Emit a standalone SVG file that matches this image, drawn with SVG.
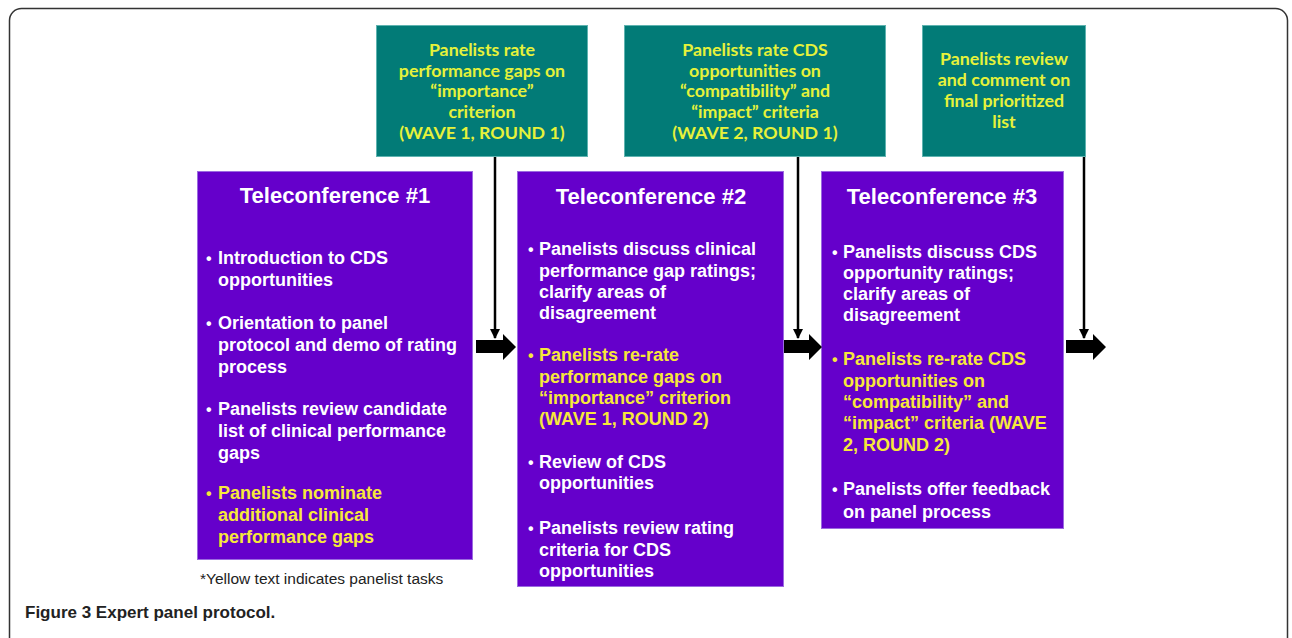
<svg xmlns="http://www.w3.org/2000/svg" width="1292" height="638" viewBox="0 0 1292 638">
<defs>
<style>
.frame{fill:#fff;stroke:#333;stroke-width:1.5}
.teal{fill:#027b77;stroke:#5fb3b0;stroke-width:1}
.purple{fill:#6500cb;stroke:#9b6be0;stroke-width:1}
.tt{font-family:Lato,"Open Sans",sans-serif;font-weight:bold;font-size:17.8px;fill:#e6f23a;text-anchor:middle}
.title{font-family:"Liberation Sans",Arial,sans-serif;font-weight:bold;font-size:22px;fill:#fff;text-anchor:middle}
.b{font-family:"Liberation Sans",Arial,sans-serif;font-weight:bold;font-size:18px;fill:#fff}
.y{fill:#f7e83a}
.dot{font-family:"Liberation Sans",Arial,sans-serif;font-weight:bold;font-size:16px}
.note{font-family:"Liberation Sans",Arial,sans-serif;font-size:15.5px;fill:#222}
.cap{font-family:"Liberation Sans",Arial,sans-serif;font-weight:bold;font-size:17px;fill:#222}
.line{stroke:#000;stroke-width:2.5;fill:none}
.block{fill:#000}
</style>
<marker id="ah" viewBox="0 0 10 10" refX="9" refY="5" markerWidth="4" markerHeight="4" orient="auto">
<path d="M0,0 L10,5 L0,10 z" fill="#000"/>
</marker>
</defs>
<rect class="frame" x="9.5" y="8.5" width="1278" height="645" rx="12"/>

<g id="wave1">
<rect class="teal" x="376.5" y="25.5" width="211" height="131"/>
<text class="tt" x="482" y="56">Panelists rate</text>
<text class="tt" x="482" y="77">performance gaps on</text>
<text class="tt" x="482" y="97">“importance”</text>
<text class="tt" x="482" y="118">criterion</text>
<text class="tt" x="482" y="139">(WAVE 1, ROUND 1)</text>
</g>

<g id="wave2">
<rect class="teal" x="624.5" y="25.5" width="261" height="131"/>
<text class="tt" x="755" y="56">Panelists rate CDS</text>
<text class="tt" x="755" y="77">opportunities on</text>
<text class="tt" x="755" y="97">“compatibility” and</text>
<text class="tt" x="755" y="118">“impact” criteria</text>
<text class="tt" x="755" y="139">(WAVE 2, ROUND 1)</text>
</g>

<g id="final">
<rect class="teal" x="922.5" y="25.5" width="163" height="131"/>
<text class="tt" x="1004" y="65">Panelists review</text>
<text class="tt" x="1004" y="86">and comment on</text>
<text class="tt" x="1004" y="107">final prioritized</text>
<text class="tt" x="1004" y="128">list</text>
</g>

<g id="tele1">
<rect class="purple" x="197.5" y="171.5" width="275" height="388"/>
<text class="title" x="335" y="203">Teleconference #1</text>
<text class="b dot" x="206" y="264">•</text>
<text class="b" x="218" y="264">Introduction to CDS</text>
<text class="b" x="218" y="286">opportunities</text>
<text class="b dot" x="206" y="329">•</text>
<text class="b" x="218" y="329">Orientation to panel</text>
<text class="b" x="218" y="351">protocol and demo of rating</text>
<text class="b" x="218" y="373">process</text>
<text class="b dot" x="206" y="415">•</text>
<text class="b" x="218" y="415">Panelists review candidate</text>
<text class="b" x="218" y="437">list of clinical performance</text>
<text class="b" x="218" y="459">gaps</text>
<text class="b dot y" x="206" y="499">•</text>
<text class="b y" x="218" y="499">Panelists nominate</text>
<text class="b y" x="218" y="521">additional clinical</text>
<text class="b y" x="218" y="543">performance gaps</text>
</g>

<g id="tele2">
<rect class="purple" x="517.5" y="171.5" width="266" height="415"/>
<text class="title" x="651" y="204">Teleconference #2</text>
<text class="b dot" x="528" y="255">•</text>
<text class="b" x="539" y="255">Panelists discuss clinical</text>
<text class="b" x="539" y="277">performance gap ratings;</text>
<text class="b" x="539" y="298">clarify areas of</text>
<text class="b" x="539" y="319">disagreement</text>
<text class="b dot y" x="528" y="361">•</text>
<text class="b y" x="539" y="361">Panelists re-rate</text>
<text class="b y" x="539" y="383">performance gaps on</text>
<text class="b y" x="539" y="404">“importance” criterion</text>
<text class="b y" x="539" y="425">(WAVE 1, ROUND 2)</text>
<text class="b dot" x="528" y="468">•</text>
<text class="b" x="539" y="468">Review of CDS</text>
<text class="b" x="539" y="489">opportunities</text>
<text class="b dot" x="528" y="534">•</text>
<text class="b" x="539" y="534">Panelists review rating</text>
<text class="b" x="539" y="556">criteria for CDS</text>
<text class="b" x="539" y="577">opportunities</text>
</g>

<g id="tele3">
<rect class="purple" x="821.5" y="171.5" width="242" height="357"/>
<text class="title" x="942" y="204">Teleconference #3</text>
<text class="b dot" x="832" y="258">•</text>
<text class="b" x="843" y="258">Panelists discuss CDS</text>
<text class="b" x="843" y="279">opportunity ratings;</text>
<text class="b" x="843" y="300">clarify areas of</text>
<text class="b" x="843" y="321">disagreement</text>
<text class="b dot y" x="832" y="365">•</text>
<text class="b y" x="843" y="365">Panelists re-rate CDS</text>
<text class="b y" x="843" y="387">opportunities on</text>
<text class="b y" x="843" y="408">“compatibility” and</text>
<text class="b y" x="843" y="429">“impact” criteria (WAVE</text>
<text class="b y" x="843" y="451">2, ROUND 2)</text>
<text class="b dot" x="832" y="495">•</text>
<text class="b" x="843" y="495">Panelists offer feedback</text>
<text class="b" x="843" y="518">on panel process</text>
</g>

<g id="connectors">
<line class="line" x1="495" y1="157" x2="495" y2="338" marker-end="url(#ah)"/>
<line class="line" x1="798" y1="157" x2="798" y2="338" marker-end="url(#ah)"/>
<line class="line" x1="1084" y1="157" x2="1084" y2="338" marker-end="url(#ah)"/>
<polygon class="block" points="476,340 503,340 503,334 516,347 503,360 503,353 476,353"/>
<polygon class="block" points="784,340 809,340 809,334 822,347 809,360 809,353 784,353"/>
<polygon class="block" points="1066,340 1093,340 1093,334 1106,347 1093,360 1093,353 1066,353"/>
</g>

<text class="note" x="200" y="584">*Yellow text indicates panelist tasks</text>
<text class="cap" x="25" y="618">Figure 3 Expert panel protocol.</text>
</svg>
